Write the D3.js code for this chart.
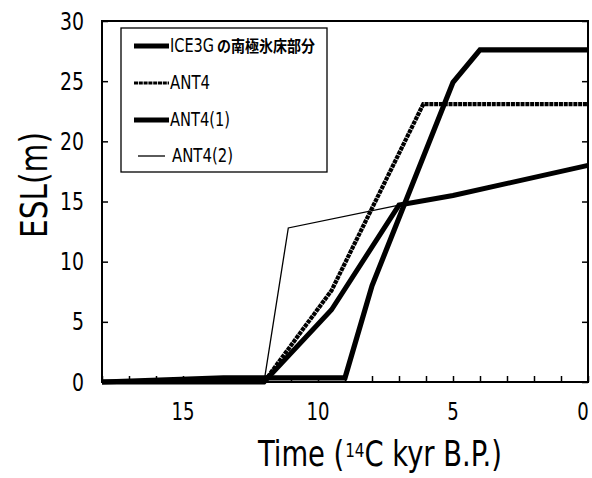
<!DOCTYPE html>
<html>
<head>
<meta charset="utf-8">
<script src="https://cdn.jsdelivr.net/npm/d3@7/dist/d3.min.js"></script>
<style>
  html, body { margin: 0; padding: 0; background: #fff; }
  svg { display: block; }
  text { font-family: "Liberation Sans Narrow", "DejaVu Sans Condensed", "Liberation Sans", sans-serif; fill: #000; }
</style>
</head>
<body>
<svg id="chart" width="592" height="478"></svg>
<script>
// Antarctic ice-sheet equivalent sea level (m) vs time (14C kyr B.P.)
const seriesNames = ["ICE3Gの南極氷床部分", "ANT4", "ANT4(1)", "ANT4(2)"];

const ice3gTime = [18, 12, 9.5, 7, 5, 0];
const ice3gEsl  = [0, 0, 6, 14.7, 15.5, 18];

const ant4Time = [18, 12, 9.5, 6.1, 0];
const ant4Esl  = [0, 0, 7.6, 23.1, 23.1];

const ant4aTime = [18, 13.5, 9, 8, 5, 4, 0];
const ant4aEsl  = [0, 0.35, 0.35, 8, 24.9, 27.6, 27.6];

const ant4bTime = [18, 12, 11.1, 7, 5, 0];
const ant4bEsl  = [0, 0, 12.8, 14.7, 15.5, 18];

const xTicks = [15, 10, 5, 0];
const yTicks = [0, 5, 10, 15, 20, 25, 30];

const svg = d3.select("#chart");
const L = 102, R = 588, T = 21, B = 382;

const x = d3.scaleLinear().domain([18, 0]).range([L, R]);
const y = d3.scaleLinear().domain([0, 30]).range([B, T]);

const zip = (t, v) => t.map((d, i) => [d, v[i]]);
const line = d3.line().x(d => x(d[0])).y(d => y(d[1]));

const styles = {
  "ANT4(2)":  { w: 1.3, dash: null },
  "ANT4":     { w: 4.2, dash: "4,0.8" },
  "ICE3Gの南極氷床部分": { w: 5, dash: null },
  "ANT4(1)":  { w: 5.2, dash: null }
};
const data = {
  "ICE3Gの南極氷床部分": zip(ice3gTime, ice3gEsl),
  "ANT4": zip(ant4Time, ant4Esl),
  "ANT4(1)": zip(ant4aTime, ant4aEsl),
  "ANT4(2)": zip(ant4bTime, ant4bEsl)
};
// thin line first so the thick ones sit on top
["ANT4(2)", "ANT4", "ICE3Gの南極氷床部分", "ANT4(1)"].forEach(name => {
  svg.append("path")
    .datum(data[name])
    .attr("d", line)
    .attr("fill", "none")
    .attr("stroke", "#000")
    .attr("stroke-width", styles[name].w)
    .attr("stroke-dasharray", styles[name].dash)
    .attr("stroke-linejoin", "miter");
});

// frame
svg.append("rect")
  .attr("x", L).attr("y", T).attr("width", R - L).attr("height", B - T)
  .attr("fill", "none").attr("stroke", "#000").attr("stroke-width", 2);

// bottom axis: ticks every 1 kyr pointing inward, labels every 5
const bottom = svg.append("g").attr("transform", `translate(0,${B})`)
  .call(d3.axisBottom(x).tickValues(d3.range(0, 19, 1)).tickSizeInner(-6).tickSizeOuter(0).tickFormat(""));
bottom.select(".domain").remove();
bottom.selectAll("line").attr("stroke", "#000").attr("stroke-width", 1.5);

svg.append("g").selectAll("text").data(xTicks).join("text")
  .attr("x", d => d === 0 ? x(d) - 5 : x(d)).attr("y", 420)
  .attr("text-anchor", "middle")
  .attr("textLength", d => String(d).length * 11.5).attr("lengthAdjust", "spacingAndGlyphs")
  .style("font-size", "25px")
  .text(d => d);

// left axis
const left = svg.append("g").attr("transform", `translate(${L},0)`)
  .call(d3.axisLeft(y).tickValues(yTicks).tickSizeInner(-6).tickSizeOuter(0).tickFormat(""));
left.select(".domain").remove();
left.selectAll("line").attr("stroke", "#000").attr("stroke-width", 1.5);

svg.append("g").selectAll("text").data(yTicks).join("text")
  .attr("x", 84).attr("y", d => y(d))
  .attr("text-anchor", "end").attr("dominant-baseline", "central")
  .attr("textLength", d => String(d).length * 12).attr("lengthAdjust", "spacingAndGlyphs")
  .style("font-size", "25px")
  .text(d => d);

// right axis
const right = svg.append("g").attr("transform", `translate(${R},0)`)
  .call(d3.axisRight(y).tickValues(yTicks).tickSizeInner(-6).tickSizeOuter(0).tickFormat(""));
right.select(".domain").remove();
right.selectAll("line").attr("stroke", "#000").attr("stroke-width", 1.5);

// y title
svg.append("text")
  .attr("transform", "translate(47,185) rotate(-90)")
  .attr("text-anchor", "middle")
  .attr("textLength", 106).attr("lengthAdjust", "spacingAndGlyphs")
  .style("font-size", "37px")
  .text("ESL(m)");

// x title, laid out piece by piece so the small "14" sits raised
const xtParts = [
  { s: "Time (", size: 36, dy: 0 },
  { s: "14", size: 20, dy: -9 },
  { s: "C kyr B.P.)", size: 36, dy: 0 }
];
const xtG = svg.append("g");
const xtNodes = xtParts.map(p => xtG.append("text")
  .attr("y", 466 + p.dy)
  .style("font-size", p.size + "px")
  .text(p.s));
const widths = xtNodes.map(n => n.node().getComputedTextLength());
const total = d3.sum(widths) + 1;
let cx = 380 - total / 2;
xtNodes.forEach((n, i) => { n.attr("x", cx); cx += widths[i] + (i === 0 ? 1 : 0); });
const sx = 244 / total;
xtG.attr("transform", `translate(380,0) scale(${sx},1) translate(-380,0)`);

// legend
svg.append("rect")
  .attr("x", 121).attr("y", 28).attr("width", 206).attr("height", 144)
  .attr("fill", "#fff").attr("stroke", "#000").attr("stroke-width", 1.3);

const legendRows = [
  { name: "ICE3Gの南極氷床部分", y: 46, x1: 134, x2: 169 },
  { name: "ANT4", y: 83, x1: 134, x2: 169 },
  { name: "ANT4(1)", y: 120, x1: 134, x2: 169 },
  { name: "ANT4(2)", y: 156, x1: 138, x2: 165 }
];
const lg = svg.append("g");
legendRows.forEach(r => {
  lg.append("line")
    .attr("x1", r.x1).attr("x2", r.x2).attr("y1", r.y).attr("y2", r.y)
    .attr("stroke", "#000")
    .attr("stroke-width", r.name === "ANT4" ? 3 : styles[r.name].w)
    .attr("stroke-dasharray", styles[r.name].dash);
});

// first entry: latin part then the Japanese part right after it
lg.append("text").attr("x", 170).attr("y", 52)
  .attr("textLength", 44).attr("lengthAdjust", "spacingAndGlyphs")
  .style("font-size", "19px").text("ICE3G");
lg.append("text").attr("x", 217).attr("y", 52)
  .attr("textLength", 98).attr("lengthAdjust", "spacingAndGlyphs")
  .style("font-family", "'Noto Sans CJK JP', sans-serif")
  .style("font-weight", "700").style("font-size", "16px")
  .text("の南極氷床部分");

lg.append("text").attr("x", 170).attr("y", 89).attr("textLength", 40).attr("lengthAdjust", "spacingAndGlyphs")
  .style("font-size", "19px").text("ANT4");
lg.append("text").attr("x", 170).attr("y", 126).attr("textLength", 60).attr("lengthAdjust", "spacingAndGlyphs")
  .style("font-size", "19px").text("ANT4(1)");
lg.append("text").attr("x", 172).attr("y", 162).attr("textLength", 61).attr("lengthAdjust", "spacingAndGlyphs")
  .style("font-size", "19px").text("ANT4(2)");
</script>
</body>
</html>
